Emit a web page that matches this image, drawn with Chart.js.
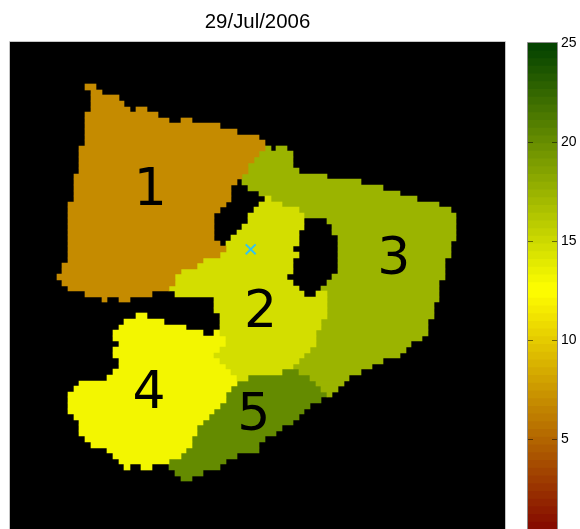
<!DOCTYPE html>
<html>
<head>
<meta charset="utf-8">
<script src="https://cdn.jsdelivr.net/npm/chart.js@4"></script>
<style>
  html, body { margin: 0; background: #fff; overflow: hidden; }
  #map { position: absolute; left: 0; top: 0; }
  #bar { position: absolute; left: 510px; top: 0; }
</style>
</head>
<body>
<canvas id="map" width="580" height="529"></canvas>
<!-- the colorbar runs past the bottom of the window, as in the reference -->
<canvas id="bar" width="70" height="550"></canvas>
<script>
const chartTitle = "29/Jul/2006";
const regionNames = ["1", "2", "3", "4", "5"];
const regionValues = [6.9, 14.5, 17.4, 12.9, 20];
const labelCols = [11.6, 31.2, 54.9, 11.4, 30];
const labelRows = [17.7, 39.5, 29.9, 54, 58];
const markerCol = [29.46];
const markerRow = [29.02];
const colorbarTicks = [5, 10, 15, 20, 25];

// each run is [grid row, first column, end column]
const region1 = [[0,0,2],[1,1,3],[2,1,6],[3,1,7],[4,1,8],[4,9,11],[5,0,13],[6,0,15],[6,17,19],[7,0,24],
  [8,0,27],[9,0,31],[10,0,32],[11,-1,32],[12,-1,31],[13,-1,30],[14,-1,29],[15,-1,29],[16,-2,28],[17,-2,27],
  [18,-2,26],[19,-2,26],[20,-2,26],[21,-3,25],[22,-3,24],[23,-3,23],[24,-3,23],[25,-3,23],[26,-3,23],[27,-3,23],
  [28,-3,24],[29,-3,25],[30,-3,24],[31,-3,21],[32,-4,20],[33,-4,17],[34,-5,16],[35,-4,16],[36,-3,15],[37,0,12],
  [38,3,4],[38,6,8]];
const region2 = [[20,32,33],[21,31,35],[22,30,38],[23,29,39],[24,29,39],[25,28,39],[26,27,38],[27,26,38],[28,25,38],
  [29,25,37],[30,24,38],[31,21,37],[32,20,37],[33,17,37],[34,16,36],[35,16,37],[36,15,38],[37,16,39],[37,41,43],
  [38,23,43],[39,23,43],[40,23,43],[41,24,43],[42,24,42],[43,24,42],[44,24,41],[45,25,41],[46,25,41],[47,24,40],
  [48,23,39],[49,24,38],[50,25,37],[51,26,35],[52,27,29]];
const region3 = [[11,32,33],[11,34,36],[12,31,37],[13,30,37],[14,29,37],[15,29,38],[16,28,43],[17,28,49],[18,29,53],
  [19,31,56],[20,33,59],[21,35,63],[22,38,65],[23,39,66],[24,43,66],[25,44,66],[26,44,66],[27,45,66],[28,45,65],
  [29,45,65],[30,45,65],[31,45,64],[32,45,64],[33,45,64],[34,44,64],[35,43,63],[36,42,63],[37,43,63],[38,43,63],
  [39,43,62],[40,43,62],[41,43,62],[42,42,61],[43,42,61],[44,41,61],[45,41,60],[46,41,58],[47,40,57],[48,39,56],
  [49,38,53],[50,37,51],[51,38,49],[52,40,47],[53,41,46],[54,42,45],[55,43,44]];
const region4 = [[41,9,11],[42,7,14],[43,6,18],[44,5,21],[44,23,24],[45,5,25],[46,6,25],[47,5,24],[48,5,23],[49,6,24],
  [50,6,25],[51,5,26],[52,4,27],[53,-1,27],[54,-2,26],[55,-3,25],[56,-3,25],[57,-3,24],[58,-3,23],[59,-2,22],
  [60,-1,21],[61,-1,20],[62,-1,20],[63,0,19],[64,1,19],[65,4,18],[66,5,17],[67,6,15],[68,7,8],[68,10,12]];
const region5 = [[51,35,38],[52,29,40],[53,27,41],[54,26,42],[55,25,43],[56,25,42],[57,24,40],[58,23,39],[59,22,38],
  [60,21,37],[61,20,35],[62,20,34],[63,19,32],[64,19,31],[65,18,31],[66,17,27],[67,15,25],[68,15,24],[69,16,21],[70,17,19]];
const regionRuns = [region1, region2, region3, region4, region5];

const colorMax = 25;
const colorLevels = 64;

// dark red -> yellow -> dark green, 64 flat steps like the original colormap
function levelColor(level) {
  const t = (level + 0.5) / colorLevels;
  if (t < 0.5) {
    const s = t * 2;
    return `rgb(${Math.round(128 + 127 * s)},${Math.round(255 * s)},0)`;
  }
  const s = (t - 0.5) * 2;
  return `rgb(${Math.round(255 * (1 - s))},${Math.round(255 - 191 * s)},0)`;
}
function valueColor(v) {
  return levelColor(Math.min(colorLevels - 1, Math.floor((v / colorMax) * colorLevels)));
}

const mapBackground = {
  id: "mapBackground",
  beforeDatasetsDraw(chart) {
    const { ctx, chartArea: a } = chart;
    ctx.save();
    ctx.fillStyle = "#000";
    ctx.fillRect(a.left, a.top, a.width, a.height);
    ctx.strokeStyle = "#c4c4c4";
    ctx.lineWidth = 1;
    ctx.beginPath();
    ctx.moveTo(a.left - 0.5, a.bottom);
    ctx.lineTo(a.left - 0.5, a.top - 0.5);
    ctx.lineTo(a.right + 0.5, a.top - 0.5);
    ctx.lineTo(a.right + 0.5, a.bottom);
    ctx.stroke();
    ctx.restore();
  },
};

// snap the runs to whole pixels, otherwise the black shows through between rows
const snapBars = {
  id: "snapBars",
  afterDatasetsUpdate(chart) {
    chart.getSortedVisibleDatasetMetas().forEach((meta) => {
      if (meta.type !== "bar") return;
      meta.data.forEach((el) => {
        const top = Math.round(el.y - el.height / 2);
        const bottom = Math.round(el.y + el.height / 2);
        el.y = (top + bottom) / 2;
        el.height = bottom - top;
        el.x = Math.round(el.x);
        el.base = Math.round(el.base);
      });
    });
  },
};

const regionLabels = {
  id: "regionLabels",
  afterDatasetsDraw(chart) {
    const { ctx, scales } = chart;
    ctx.save();
    ctx.fillStyle = "#000";
    ctx.font = '52px "DejaVu Sans"';
    ctx.textAlign = "center";
    ctx.textBaseline = "alphabetic";
    regionNames.forEach((name, i) => {
      const m = ctx.measureText(name);
      const x = scales.x.getPixelForValue(labelCols[i]);
      const y = scales.y.getPixelForValue(labelRows[i]);
      ctx.fillText(name, x, y + m.actualBoundingBoxAscent / 2);
    });
    ctx.restore();
  },
};

new Chart(document.getElementById("map"), {
  type: "bar",
  data: {
    datasets: [
      {
        type: "scatter",
        indexAxis: "x",
        data: [{ x: markerCol[0], y: markerRow[0] }],
        pointStyle: "crossRot",
        pointRadius: 7,
        pointBorderWidth: 2,
        pointBorderColor: "#33c3f0",
        order: 0,
      },
    ].concat(
      regionRuns.map((runs, i) => ({
        label: regionNames[i],
        data: runs.map(([row, from, to]) => ({ y: row, x: [from, to] })),
        backgroundColor: valueColor(regionValues[i]),
        grouped: false,
        barPercentage: 1,
        categoryPercentage: 1,
        order: 1,
      }))
    ),
  },
  options: {
    indexAxis: "y",
    responsive: false,
    animation: false,
    layout: { autoPadding: false, padding: { left: 10, right: 75, top: 0, bottom: 0 } },
    scales: {
      x: { type: "linear", display: false, min: -13.33, max: 74.67 },
      y: { type: "linear", display: false, reverse: true, offset: false, min: -8.07, max: 79.05 },
    },
    plugins: {
      legend: { display: false },
      tooltip: { enabled: false },
      title: {
        display: true,
        text: chartTitle,
        color: "#000",
        font: { family: "Liberation Sans", size: 20.4, weight: "normal" },
        padding: { top: 10.5, bottom: 7 },
      },
    },
  },
  plugins: [mapBackground, snapBars, regionLabels],
});

const barDecor = {
  id: "barDecor",
  afterDatasetsDraw(chart) {
    const { ctx, chartArea: a, scales } = chart;
    ctx.save();
    ctx.strokeStyle = "rgba(0,0,0,0.5)";
    ctx.lineWidth = 1;
    colorbarTicks.slice(0, -1).forEach((t) => {
      const y = Math.round(scales.y.getPixelForValue(t)) + 0.5;
      ctx.beginPath();
      ctx.moveTo(a.left, y);
      ctx.lineTo(a.left + 5, y);
      ctx.moveTo(a.right - 5, y);
      ctx.lineTo(a.right, y);
      ctx.stroke();
    });
    ctx.strokeStyle = "rgba(110,110,110,0.8)";
    ctx.beginPath();
    ctx.moveTo(a.left - 0.5, a.bottom);
    ctx.lineTo(a.left - 0.5, a.top - 0.5);
    ctx.lineTo(a.right + 0.5, a.top - 0.5);
    ctx.lineTo(a.right + 0.5, a.bottom);
    ctx.stroke();
    ctx.restore();
  },
};

// bars all start at the bottom and the lower ones paint over the higher ones, no seams between steps
const barDatasets = [];
for (let i = 0; i < colorLevels; i++) {
  barDatasets.push({
    data: [((i + 1) / colorLevels) * colorMax],
    backgroundColor: levelColor(i),
    grouped: false,
    barPercentage: 1,
    categoryPercentage: 1,
  });
}

new Chart(document.getElementById("bar"), {
  type: "bar",
  data: { labels: [""], datasets: barDatasets },
  options: {
    responsive: false,
    animation: false,
    layout: { autoPadding: false, padding: { left: 18, right: 0, top: 43, bottom: 0 } },
    scales: {
      x: { display: false },
      y: {
        position: "right",
        min: 0,
        max: colorMax,
        afterBuildTicks(axis) {
          axis.ticks = colorbarTicks.map((value) => ({ value }));
        },
        afterFit(axis) {
          axis.width = 23;
        },
        grid: { display: false, drawTicks: false },
        border: { display: false },
        ticks: {
          color: "#000",
          padding: 4,
          font: { family: "Liberation Sans", size: 14 },
        },
      },
    },
    plugins: { legend: { display: false }, tooltip: { enabled: false } },
  },
  plugins: [barDecor],
});
</script>
</body>
</html>
